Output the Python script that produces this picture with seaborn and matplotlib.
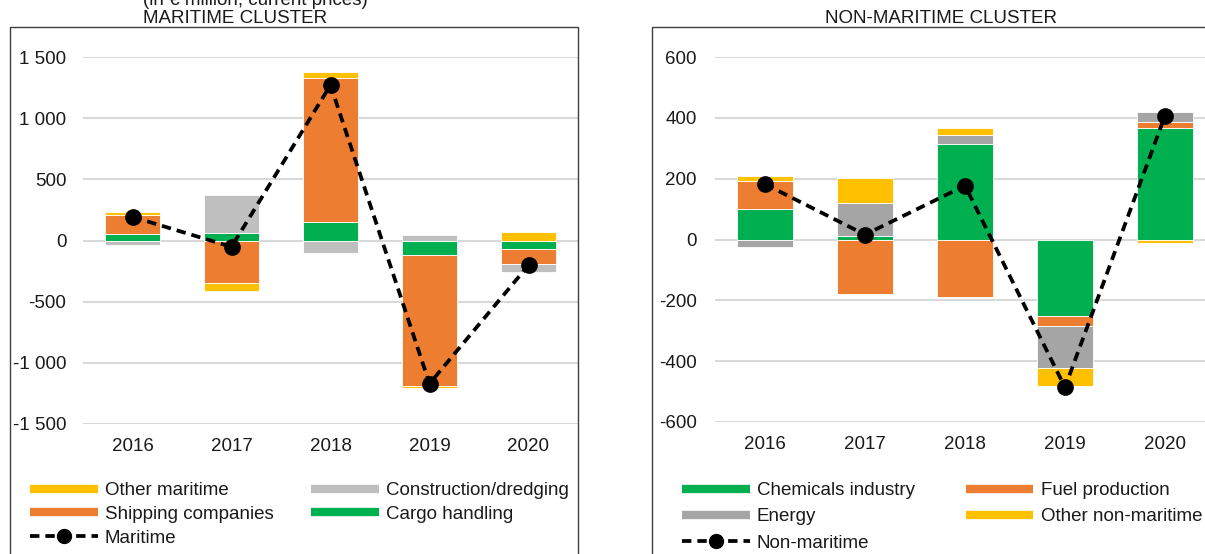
import matplotlib
matplotlib.use("Agg")
import matplotlib.pyplot as plt
import seaborn as sns
import numpy as np
from matplotlib.lines import Line2D
from matplotlib.patches import Rectangle
from matplotlib.ticker import FuncFormatter

years = ["2016", "2017", "2018", "2019", "2020"]

# maritime cluster (EUR million, current prices)
cargo_handling = [57, 62, 152, -120, -66]
shipping_companies = [152, -347, 1178, -1069, -128]
construction_dredging = [-36, 309, -101, 43, -63]
other_maritime = [22, -62, 49, -14, 68]
maritime_total = [193, -52, 1270, -1170, -202]

# non-maritime cluster
chemicals_industry = [100, 11, 314, -250, 368]
fuel_production = [91, -180, -189, -33, 18]
energy = [-24, 109, 31, -140, 33]
other_non_maritime = [18, 83, 22, -60, -10]
non_maritime_total = [182, 16, 177, -486, 407]

GREEN = "#00B050"
ORANGE = "#ED7D31"
YELLOW = "#FFC000"
LGRAY = "#BFBFBF"
DGRAY = "#A5A5A5"
TXT = "#1a1a1a"
FS = 13.5

sns.set_style("white")
plt.rcParams["font.family"] = ["Liberation Sans", "DejaVu Sans"]

W, H = 1205, 554
fig = plt.figure(figsize=(W / 100, H / 100), dpi=100)


def box(x0, y0, x1, y1):
    return [x0 / W, 1 - y1 / H, (x1 - x0) / W, (y1 - y0) / H]


def stacked(ax, layers, colors):
    pos = np.zeros(len(years))
    neg = np.zeros(len(years))
    for vals, c in zip(layers, colors):
        vals = np.asarray(vals, dtype=float)
        bottom = np.where(vals >= 0, pos, neg)
        sns.barplot(x=years, y=vals, order=years, bottom=bottom, color=c,
                    saturation=1, width=0.56, errorbar=None, ax=ax,
                    edgecolor="white", linewidth=0.6)
        pos += np.clip(vals, 0, None)
        neg += np.clip(vals, None, 0)


def total_line(ax, vals):
    sns.pointplot(x=years, y=vals, order=years, color="black", errorbar=None,
                  linestyle=(0, (2.5, 1.6)), linewidth=2.7, marker="o",
                  markersize=10, ax=ax, zorder=5)


def style(ax, lo, hi, step, ypad):
    ax.set_ylim(lo, hi)
    ax.set_yticks(np.arange(lo, hi + 1, step))
    ax.yaxis.set_major_formatter(FuncFormatter(lambda v, p: f"{int(v):,}".replace(",", " ")))
    ax.grid(axis="y", color="#D9D9D9", lw=1.5)
    ax.set_axisbelow(True)
    for s in ax.spines.values():
        s.set_visible(False)
    ax.tick_params(axis="y", length=0, pad=ypad, labelsize=FS, labelcolor=TXT)
    ax.tick_params(axis="x", length=0, pad=10, labelsize=FS, labelcolor=TXT)
    ax.set_xlabel("")
    ax.set_ylabel("")


def bar_handle(c):
    return Line2D([], [], color=c, lw=6, solid_capstyle="butt")


def line_handle(label):
    return Line2D([], [], color="black", lw=2.7, linestyle=(0, (2.5, 1.6)),
                  marker="o", markersize=10, label=label)


# left panel
ax1 = fig.add_axes(box(83, 57, 578, 424))
stacked(ax1, [cargo_handling, shipping_companies, construction_dredging, other_maritime],
        [GREEN, ORANGE, LGRAY, YELLOW])
total_line(ax1, maritime_total)
style(ax1, -1500, 1500, 500, 12)

# right panel
ax2 = fig.add_axes(box(715, 57, 1215, 422))
stacked(ax2, [chemicals_industry, fuel_production, energy, other_non_maritime],
        [GREEN, ORANGE, DGRAY, YELLOW])
total_line(ax2, non_maritime_total)
style(ax2, -600, 600, 200, 13)

# frames around each chart block
fig.add_artist(Rectangle((10 / W, -0.1), 568 / W, 1 - 27 / H + 0.1,
                         transform=fig.transFigure, fill=False, ec="#404040", lw=1))
fig.add_artist(Rectangle((652 / W, -0.1), 0.6, 1 - 27 / H + 0.1,
                         transform=fig.transFigure, fill=False, ec="#404040", lw=1))

# titles (first line sits partly above the top edge, as in the source)
fig.text(143 / W, 1 - 5 / H, "(in € million, current prices)", fontsize=FS,
         color=TXT, ha="left", va="baseline")
fig.text(143 / W, 1 - 23 / H, "MARITIME CLUSTER", fontsize=FS, color=TXT,
         ha="left", va="baseline")
fig.text(941 / W, 1 - 23 / H, "NON-MARITIME CLUSTER", fontsize=FS, color=TXT,
         ha="center", va="baseline")

# legends (column-wise order gives the row-wise look of the original)
h1 = [bar_handle(YELLOW), bar_handle(ORANGE), line_handle("Maritime"),
      bar_handle(LGRAY), bar_handle(GREEN)]
l1 = ["Other maritime", "Shipping companies", "Maritime",
      "Construction/dredging", "Cargo handling"]
fig.legend(h1, l1, ncol=2, loc="upper left", bbox_to_anchor=(30 / W, 1 - 482 / H),
           frameon=False, fontsize=FS, handlelength=3.6, handletextpad=0.4,
           columnspacing=2.0, labelspacing=0.36, borderpad=0, borderaxespad=0,
           labelcolor=TXT)

h2 = [bar_handle(GREEN), bar_handle(DGRAY), line_handle("Non-maritime"),
      bar_handle(ORANGE), bar_handle(YELLOW)]
l2 = ["Chemicals industry", "Energy", "Non-maritime",
      "Fuel production", "Other non-maritime"]
fig.legend(h2, l2, ncol=2, loc="upper left", bbox_to_anchor=(682 / W, 1 - 482 / H),
           frameon=False, fontsize=FS, handlelength=3.6, handletextpad=0.4,
           columnspacing=2.7, labelspacing=0.49, borderpad=0, borderaxespad=0,
           labelcolor=TXT)

fig.savefig("out.png", dpi=100)
